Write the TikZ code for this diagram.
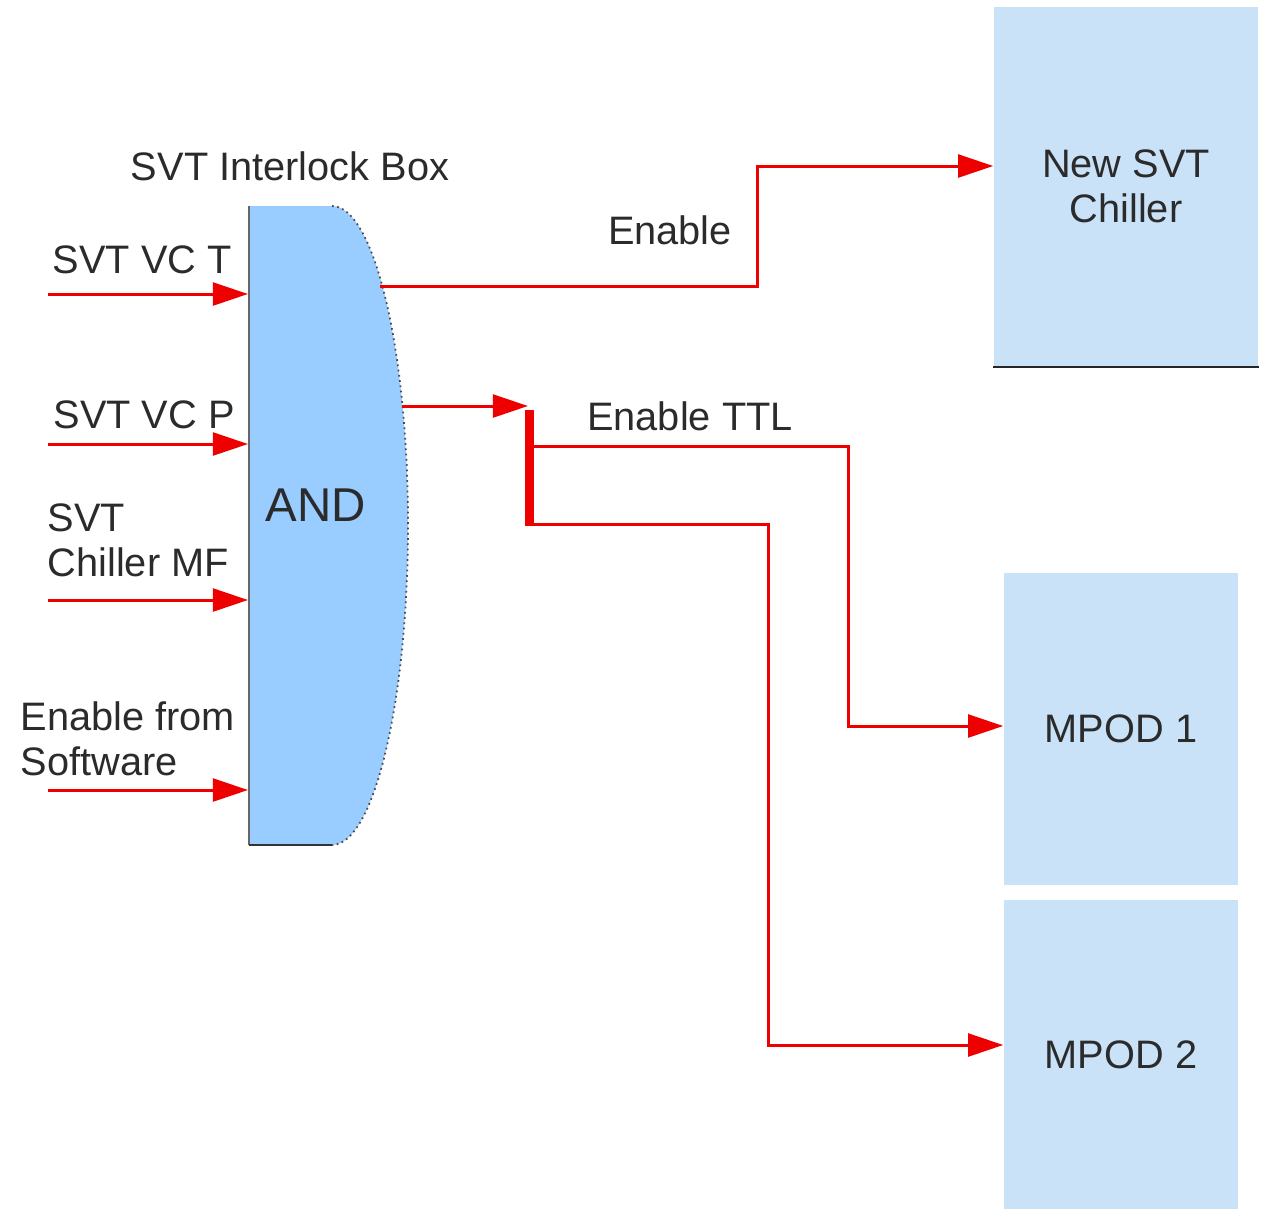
\documentclass[tikz,border=0pt]{standalone}
\usepackage{fontspec}
\setmainfont{Liberation Sans}
\usetikzlibrary{arrows.meta}
\definecolor{txt}{HTML}{2B2B2B}
\definecolor{andfill}{HTML}{99CCFF}
\definecolor{boxfill}{HTML}{C9E2F8}
\definecolor{sigred}{HTML}{EE0000}
\tikzset{
  lbl/.style={font=\fontsize{11.3}{12.8}\selectfont, text=txt, inner sep=0pt},
  sig/.style={draw=sigred, line width=0.85pt},
  sigarrow/.style={sig, -{Triangle[length=10pt,width=6.5pt]}},
  devbox/.style={fill=boxfill, draw=none, inner sep=0pt, align=center,
    font=\fontsize{11.3}{12.8}\selectfont, text=txt},
}
\begin{document}
\begin{tikzpicture}[x=0.01cm,y=-0.01cm]
\useasboundingbox (0,0) rectangle (1266,1208);
% AND gate shape
\fill[andfill] (249,206) -- (332,206) .. controls (374,206) and (408,349) .. (408,525)
  .. controls (408,701) and (374,845) .. (332,845) -- (249,845) -- cycle;
\draw[gray!80!black, line width=0.6pt] (249,206) -- (249,845);
\draw[black!80, line width=0.3pt] (249,845) -- (332,845);
\draw[black!70, line width=0.5pt, densely dotted] (332,206) .. controls (374,206) and (408,349) .. (408,525)
  .. controls (408,701) and (374,845) .. (332,845);
\node[lbl, font=\fontsize{13.5}{15}\selectfont] (and) at (316,505) {AND};
\node[lbl, anchor=base] (title) at (290,180) {SVT Interlock Box};

% device boxes
\node[devbox, minimum width=2.64cm, minimum height=3.59cm] (chiller) at (1126,186.5) {New SVT\\Chiller};
\draw[black!85, line width=0.5pt] (chiller.south west) -- (chiller.south east);
\node[devbox, minimum width=2.34cm, minimum height=3.12cm] (mpod1) at (1121,729) {MPOD 1};
\node[devbox, minimum width=2.34cm, minimum height=3.10cm] (mpod2) at (1121,1055) {MPOD 2};

% inputs
\coordinate (i1) at (48,294);  \coordinate (g1) at (248,294);
\coordinate (i2) at (48,444);  \coordinate (g2) at (248,444);
\coordinate (i3) at (48,600);  \coordinate (g3) at (248,600);
\coordinate (i4) at (48,790);  \coordinate (g4) at (248,790);
\draw[sigarrow] (i1) -- (g1);
\draw[sigarrow] (i2) -- (g2);
\draw[sigarrow] (i3) -- (g3);
\draw[sigarrow] (i4) -- (g4);
\node[lbl, anchor=base west] (l1) at (52,273) {SVT VC T};
\node[lbl, anchor=base west] (l2) at (53,428) {SVT VC P};
\node[lbl, anchor=west, align=left] (l3) at (47,540) {SVT\\Chiller MF};
\node[lbl, anchor=west, align=left] (l4) at (20,739) {Enable from\\Software};

% Enable output
\coordinate (o1) at (380,286);
\coordinate (c1) at (757,286);
\coordinate (c2) at (757,166);
\coordinate (y166) at (0,166);
\draw[sigarrow] (o1) -- (c1) -- (c2) -- (chiller.west |- y166);
\node[lbl, anchor=base] (en) at (670,244) {Enable};

% Enable TTL
\coordinate (o2) at (402,406);
\coordinate (bt) at (528,406);
\draw[sigarrow] (o2) -- (bt);
\coordinate (b1) at (529.5,410);
\coordinate (b2) at (529.5,526);
\draw[draw=sigred, line width=2.5pt] (b1) -- (b2);
\node[lbl, anchor=base] (ttl) at (690,430) {Enable TTL};
\coordinate (s1) at (532,446);
\coordinate (k1) at (848,446);
\coordinate (k2) at (848,726);
\coordinate (y726) at (0,726);
\draw[sigarrow] (s1) -- (k1) -- (k2) -- (mpod1.west |- y726);
\coordinate (s2) at (532,524);
\coordinate (m1) at (768,524);
\coordinate (m2) at (768,1045);
\coordinate (y1045) at (0,1045);
\draw[sigarrow] (s2) -- (m1) -- (m2) -- (mpod2.west |- y1045);
\end{tikzpicture}
\end{document}
